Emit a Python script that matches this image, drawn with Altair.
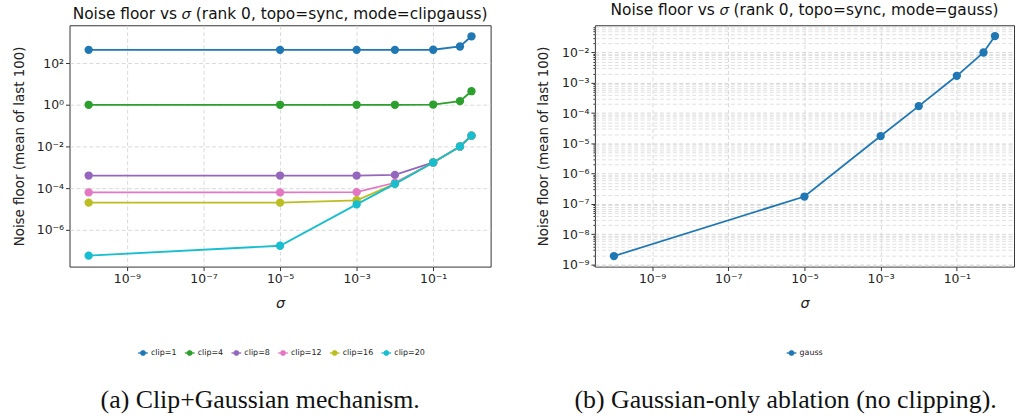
import altair as alt
import pandas as pd

# ---- data -----------------------------------------------------------------
sigma = [1e-10, 1e-5, 1e-3, 1e-2, 1e-1, 0.5, 1.0]

clip_labels = ["clip=1", "clip=4", "clip=8", "clip=12", "clip=16", "clip=20"]
clip_colors = ["#1f77b4", "#2ca02c", "#9467bd", "#e377c2", "#bcbd22", "#17becf"]

clip1 = [437, 437, 437, 437, 440, 630, 1950]
clip4 = [1.0, 1.0, 1.0, 1.0, 1.03, 1.5, 4.5]
clip8 = [4.0e-4, 4.0e-4, 4.0e-4, 4.3e-4, 1.7e-3, 1.0e-2, 3.3e-2]
clip12 = [6.2e-5, 6.2e-5, 6.4e-5, 1.8e-4, 1.7e-3, 1.0e-2, 3.3e-2]
clip16 = [2.0e-5, 2.0e-5, 2.6e-5, 1.6e-4, 1.7e-3, 1.0e-2, 3.3e-2]
clip20 = [5.7e-8, 1.7e-7, 1.65e-5, 1.6e-4, 1.7e-3, 1.0e-2, 3.3e-2]
clip_series = [clip1, clip4, clip8, clip12, clip16, clip20]

gauss_labels = ["gauss"]
gauss_colors = ["#1f77b4"]
gauss = [1.9e-9, 1.75e-7, 1.74e-5, 1.7e-4, 1.7e-3, 1.0e-2, 3.5e-2]

x_ticks = [1e-9, 1e-7, 1e-5, 1e-3, 1e-1]
left_y_ticks = [1e-6, 1e-4, 1e-2, 1.0, 1e2]
right_y_decades = [-9, -8, -7, -6, -5, -4, -3, -2]

caption_a = "(a) Clip+Gaussian mechanism."
caption_b = "(b) Gaussian-only ablation (no clipping)."
title_a = "Noise floor vs 𝜎 (rank 0, topo=sync, mode=clipgauss)"
title_b = "Noise floor vs 𝜎 (rank 0, topo=sync, mode=gauss)"
y_title = "Noise floor (mean of last 100)"


def long_table(labels, series):
    rows = []
    for lab, vals in zip(labels, series):
        for s, v in zip(sigma, vals):
            rows.append({"sigma": s, "floor": v, "run": lab})
    return pd.DataFrame(rows)


clip_df = long_table(clip_labels, clip_series)
gauss_df = long_table(gauss_labels, [gauss])

# right panel y ticks: every decade plus 2..9 minor ticks inside the domain
y_lo_b, y_hi_b = 10 ** -9.07, 10 ** -1.1
right_y_ticks = []
for d in right_y_decades + [-10]:
    for m in range(1, 10):
        v = m * 10.0 ** d
        if y_lo_b <= v <= y_hi_b:
            right_y_ticks.append(v)
right_y_ticks.sort()

# ---- axis label helpers ----------------------------------------------------
EXP = "round(log(datum.value)/LN10)"
SUP = "'⁰¹²³⁴⁵⁶⁷⁸⁹'"
pow_label = (
    f"'10' + ({EXP} < 0 ? '⁻' : '') + "
    f"substring({SUP}, abs({EXP}), abs({EXP}) + 1)"
)
is_major = f"abs(log(datum.value)/LN10 - {EXP}) < 0.001"

x_scale = alt.Scale(type="log", domain=[10 ** -10.5, 10 ** 0.5], nice=False)


def x_axis():
    return alt.Axis(
        values=x_ticks, labelExpr=pow_label, title="σ", titleFontStyle="italic",
        titleFontSize=14.5, titleY=37, titleBaseline="middle",
        labelOverlap=False, labelFlush=False, grid=True,
    )


def y_axis(values, label_expr, title_x, **kw):
    return alt.Axis(
        values=values, labelExpr=label_expr, title=y_title, titleAngle=270,
        titleX=title_x, titleY=121.5, titleAlign="center", titleBaseline="middle",
        labelOverlap=False, labelFlush=False, grid=True, **kw,
    )


def panel(df, labels, colors, y_scale, y_ax, title, caption, width, legend_x, columns):
    legend = alt.Legend(
        title=None, orient="none", legendX=legend_x, legendY=325,
        direction="horizontal", columns=columns,
        symbolType="M-1,-0.11H1V0.11H-1Z M0.58,0A0.58,0.58 0 1,1 -0.58,0A0.58,0.58 0 1,1 0.58,0Z",
    )
    color = alt.Color("run:N", scale=alt.Scale(domain=labels, range=colors), legend=legend)
    x = alt.X("sigma:Q", scale=x_scale, axis=x_axis())
    y = alt.Y("floor:Q", scale=y_scale, axis=y_ax)
    base = alt.Chart(df)
    layers = []
    # each run: line then markers, so later runs sit on top
    for lab in labels:
        sub = base.transform_filter(alt.datum.run == lab)
        layers.append(sub.mark_line(strokeWidth=1.8).encode(x=x, y=y, color=color))
        layers.append(
            sub.mark_point(filled=True, size=70, opacity=1).encode(x=x, y=y, color=color)
        )
    cap = alt.Chart(pd.DataFrame({"caption": [caption]})).mark_text(
        font="Liberation Serif", fontSize=26, color="#111", align="center",
        baseline="alphabetic",
    ).encode(text="caption:N", x=alt.value(192), y=alt.value(385))
    layers.append(cap)
    return alt.layer(*layers).properties(width=width, height=243, title=title)


left = panel(
    clip_df, clip_labels, clip_colors,
    alt.Scale(type="log", domain=[10 ** -7.77, 10 ** 3.82], nice=False),
    y_axis(left_y_ticks, pow_label, -50.5),
    title_a, caption_a, 424, 69, 6,
)

right = panel(
    gauss_df, gauss_labels, gauss_colors,
    alt.Scale(type="log", domain=[y_lo_b, y_hi_b], nice=False),
    y_axis(
        right_y_ticks, f"{is_major} ? {pow_label} : ''", -52,
        tickSize={"condition": {"test": is_major, "value": 4}, "value": 2},
        gridColor={"condition": {"test": is_major, "value": "#cccccc"}, "value": "#d8d8d8"},
    ),
    title_b, caption_b, 422, 193, 1,
)

chart = (
    alt.hconcat(left, right, spacing=105, bounds="flush")
    .resolve_scale(color="independent", x="independent", y="independent")
    .properties(padding={"left": 11, "top": 0, "right": 0, "bottom": 0}, background="white")
    .configure_view(stroke="#333333", strokeWidth=1)
    .configure_axis(
        labelFont="DejaVu Sans", labelFontSize=12.5, labelColor="#222222",
        titleFont="DejaVu Sans", titleFontSize=13.5, titleFontWeight="normal",
        titleColor="#222222", tickColor="#333333", tickSize=4, tickWidth=1,
        labelPadding=2, domain=False, gridColor="#d0d0d0", gridDash=[4, 2.5],
        gridWidth=0.8,
    )
    .configure_legend(
        labelFont="DejaVu Sans", labelFontSize=8, labelColor="#222222",
        symbolSize=90, symbolStrokeWidth=0.3, labelOffset=3, columnPadding=7,
        padding=0,
    )
    .configure_title(
        font="DejaVu Sans", fontSize=15.5, fontWeight="normal", color="#111111",
        anchor="middle", offset=3,
    )
)

chart.save("out.html", embed_options={"renderer": "svg", "actions": False})
